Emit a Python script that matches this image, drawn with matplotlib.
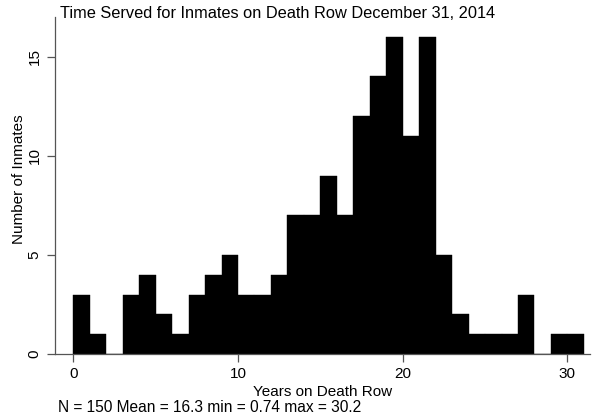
import numpy as np
import matplotlib.pyplot as plt

plt.rcParams['font.family'] = ['Liberation Sans', 'DejaVu Sans']

# inmates per one-year bin of time served, 0..31 years
bin_edges = np.arange(0, 32, 1)
counts = [3, 1, 0, 3, 4, 2, 1, 3, 4, 5,
          3, 3, 4, 7, 7, 9, 7, 12, 14, 16,
          11, 16, 5, 2, 1, 1, 1, 3, 0, 1, 1]

title = "Time Served for Inmates on Death Row December 31, 2014"
note = "N = 150 Mean = 16.3 min = 0.74 max = 30.2"
x_ticks = [0, 10, 20, 30]
y_ticks = [0, 5, 10, 15]

fig = plt.figure(figsize=(5.92, 4.2), dpi=100)
ax = fig.add_axes([55 / 592, 66 / 420, 535 / 592, 337 / 420])

ax.bar(bin_edges[:-1], counts, width=np.diff(bin_edges), align='edge',
       color='black', edgecolor='black', linewidth=0.3)

ax.set_xlim(-1.11, 31.37)
ax.set_ylim(0, 17.0)

for side in ('top', 'right'):
    ax.spines[side].set_visible(False)
for side in ('left', 'bottom'):
    ax.spines[side].set_color('#555555')
    ax.spines[side].set_linewidth(0.9)

ax.set_xticks(x_ticks)
ax.set_yticks(y_ticks)
ax.tick_params(axis='both', colors='#555555', length=6, width=0.9,
               labelcolor='black', labelsize=11)
plt.setp(ax.get_yticklabels(), rotation=90, va='center')

ax.set_xlabel("Years on Death Row", fontsize=11, labelpad=3)
ax.set_ylabel("Number of Inmates", fontsize=11)
ax.yaxis.set_label_coords(-0.054, 0.52)

fig.text(60 / 592, 1 - 14 / 420, title, fontsize=11.8, va='center', ha='left')
fig.text(58 / 592, 1 - 407 / 420, note, fontsize=11.2, va='center', ha='left')

fig.savefig("out.png", dpi=100)
